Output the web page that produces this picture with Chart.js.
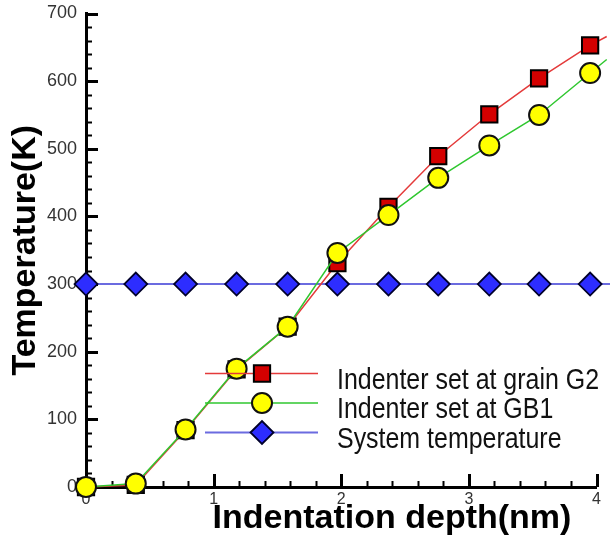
<!DOCTYPE html>
<html>
<head>
<meta charset="utf-8">
<script src="https://cdn.jsdelivr.net/npm/chart.js@4.4.1/dist/chart.umd.min.js"></script>
<style>
html,body{margin:0;padding:0;background:#fff;}
#wrap{position:relative;width:610px;height:553px;}
</style>
</head>
<body>
<div id="wrap"><canvas id="c" width="610" height="553"></canvas></div>
<script>
// ---- data ----
const depthNm    = [0, 0.39, 0.78, 1.18, 1.58, 1.97, 2.37, 2.76, 3.16, 3.55, 3.95];
const grainG2    = [0, 3, 84, 174, 237, 331, 414, 489, 551, 604, 653];
const gb1        = [0, 5, 85, 175, 237, 346, 402, 457, 505, 550, 612];
const systemTemp = [300, 300, 300, 300, 300, 300, 300, 300, 300, 300, 300];
// where the plotted curves end (beyond the last marker)
const curveEndDepth = [4.08, 4.08, 4.15];
const curveEndTemp  = [666, 632, 300];
const seriesLabels = ['Indenter set at grain G2', 'Indenter set at GB1', 'System temperature'];
const xTickValues = [0, 1, 2, 3, 4];
const yTickValues = [0, 100, 200, 300, 400, 500, 600, 700];
const xMinorStep = 0.2;
const yMinorStep = 20;
const xTitle = 'Indentation depth(nm)';
const yTitle = 'Temperature(K)';

const FONT = '"Liberation Sans", Arial, Helvetica, sans-serif';

function pts(vals, endIdx) {
  const p = depthNm.map((x, i) => ({x: x, y: vals[i]}));
  p.push({x: curveEndDepth[endIdx], y: curveEndTemp[endIdx]});
  return p;
}
function radii(r) {
  return depthNm.map(() => r).concat([0]);
}

const styles = {
  g2:  {line: '#e43a3a', fill: '#d40000', border: '#000000', shape: 'rect', r: 11.5, bw: 2, lw: 1.5},
  gb1: {line: '#2fc72f', fill: '#ffff00', border: '#111111', shape: 'circle', r: 10, bw: 2, lw: 1.5},
  sys: {line: '#6b6be0', fill: '#2d2dff', border: '#00002a', shape: 'rectRot', r: 11.5, bw: 1.8, lw: 2}
};

function ds(label, vals, endIdx, st) {
  return {
    label: label,
    data: pts(vals, endIdx),
    showLine: true,
    borderColor: st.line,
    borderWidth: st.lw,
    backgroundColor: st.fill,
    pointBackgroundColor: st.fill,
    pointBorderColor: st.border,
    pointBorderWidth: st.bw,
    pointStyle: st.shape,
    pointRadius: radii(st.r),
    pointHoverRadius: radii(st.r),
    tension: 0,
    clip: false
  };
}

function drawMarker(ctx, st, x, y) {
  ctx.save();
  ctx.fillStyle = st.fill;
  ctx.strokeStyle = st.border;
  ctx.lineWidth = st.bw;
  ctx.beginPath();
  if (st.shape === 'circle') {
    ctx.arc(x, y, st.r, 0, Math.PI * 2);
  } else if (st.shape === 'rect') {
    const s = Math.SQRT1_2 * st.r;
    ctx.rect(x - s, y - s, 2 * s, 2 * s);
  } else {
    const r = st.r;
    ctx.moveTo(x - r, y); ctx.lineTo(x, y - r); ctx.lineTo(x + r, y); ctx.lineTo(x, y + r); ctx.closePath();
  }
  ctx.fill();
  ctx.stroke();
  ctx.restore();
}

const decorations = {
  id: 'decorations',
  beforeDatasetsDraw(chart) {
    const ctx = chart.ctx, xs = chart.scales.x, ys = chart.scales.y;
    const x0 = xs.getPixelForValue(0), y0 = ys.getPixelForValue(0);
    ctx.save();
    ctx.strokeStyle = '#000';
    for (let v = 0; v <= 4 + 1e-9; v += xMinorStep) {
      const major = xTickValues.some(t => Math.abs(t - v) < 1e-6);
      const px = Math.round(xs.getPixelForValue(v)) + 0.5;
      ctx.lineWidth = major ? 3 : 2;
      ctx.beginPath();
      ctx.moveTo(px, y0);
      ctx.lineTo(px, y0 - (major ? 13 : 6));
      ctx.stroke();
    }
    for (let v = 0; v <= 700 + 1e-9; v += yMinorStep) {
      const major = yTickValues.some(t => Math.abs(t - v) < 1e-6);
      const py = Math.round(ys.getPixelForValue(v)) + 0.5;
      ctx.lineWidth = major ? 3 : 2;
      ctx.beginPath();
      ctx.moveTo(x0, py);
      ctx.lineTo(x0 + (major ? 12 : 6), py);
      ctx.stroke();
    }
    ctx.restore();
  },
  afterDraw(chart) {
    const ctx = chart.ctx, area = chart.chartArea;
    ctx.save();
    ctx.font = 'bold 34px ' + FONT;
    ctx.fillStyle = '#000';
    ctx.textAlign = 'center';
    ctx.textBaseline = 'alphabetic';
    ctx.fillText(xTitle, area.left + 306, area.bottom + 41);
    ctx.restore();
    const entries = [
      {label: seriesLabels[0], st: styles.g2},
      {label: seriesLabels[1], st: styles.gb1},
      {label: seriesLabels[2], st: styles.sys}
    ];
    const lx1 = area.left + 119, lx2 = area.left + 232, mx = area.left + 176, tx = area.left + 251;
    entries.forEach((e, i) => {
      const y = area.top + 360 + i * 29.5;
      ctx.save();
      ctx.strokeStyle = e.st.line;
      ctx.lineWidth = e.st.lw;
      ctx.beginPath();
      ctx.moveTo(lx1, y);
      ctx.lineTo(lx2, y);
      ctx.stroke();
      ctx.restore();
      drawMarker(ctx, e.st, mx, y);
      ctx.save();
      ctx.translate(tx, y + 15);
      ctx.scale(0.86, 1);
      ctx.font = '29px ' + FONT;
      ctx.fillStyle = '#111';
      ctx.textAlign = 'left';
      ctx.textBaseline = 'alphabetic';
      ctx.fillText(e.label, 0, 0);
      ctx.restore();
    });
  }
};

new Chart(document.getElementById('c'), {
  type: 'scatter',
  data: {
    datasets: [
      ds(seriesLabels[1], gb1, 1, styles.gb1),
      ds(seriesLabels[0], grainG2, 0, styles.g2),
      ds(seriesLabels[2], systemTemp, 2, styles.sys)
    ]
  },
  options: {
    responsive: false,
    animation: false,
    layout: {padding: {top: 12, right: 12, left: 0, bottom: 0}},
    plugins: {legend: {display: false}, tooltip: {enabled: false}},
    scales: {
      x: {
        type: 'linear',
        min: 0, max: 4,
        afterBuildTicks: s => { s.ticks = xTickValues.map(v => ({value: v})); },
        afterFit: s => { s.height = 66; s.paddingLeft = 0; s.paddingRight = 0; },
        ticks: {padding: 3, color: '#333', font: {size: 16, family: FONT}},
        grid: {display: false, drawTicks: false},
        border: {display: true, color: '#000', width: 3},
        title: {display: false, text: xTitle}
      },
      y: {
        type: 'linear',
        min: 0, max: 700,
        afterBuildTicks: s => { s.ticks = yTickValues.map(v => ({value: v})); },
        afterFit: s => { s.width = 86; s.paddingTop = 0; s.paddingBottom = 0; },
        ticks: {padding: 9, color: '#333', font: {size: 18, family: FONT}},
        grid: {display: false, drawTicks: false},
        border: {display: true, color: '#000', width: 3},
        title: {display: true, text: yTitle, color: '#000', padding: {top: 5, bottom: 0},
                font: {size: 34, weight: 'bold', family: FONT}}
      }
    }
  },
  plugins: [decorations]
});
</script>
</body>
</html>
